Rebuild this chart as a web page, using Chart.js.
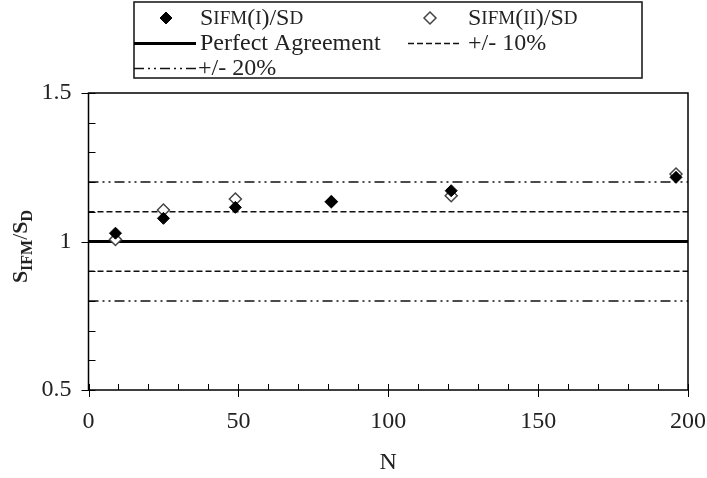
<!DOCTYPE html>
<html>
<head>
<meta charset="utf-8">
<script src="https://cdn.jsdelivr.net/npm/chart.js@4.4.1/dist/chart.umd.min.js"></script>
<style>
  html, body { margin: 0; padding: 0; background: #fff; }
  #wrap { width: 707px; height: 478px; }
</style>
</head>
<body>
<div id="wrap"><canvas id="myChart"></canvas></div>
<script>
// data
var nValues = [9, 25, 49, 81, 121, 196];
var ratioI = [1.028, 1.078, 1.115, 1.134, 1.171, 1.216];
var ratioII = [1.007, 1.106, 1.143, 1.134, 1.154, 1.227];
var perfectLevel = [1];
var band10 = [1.1, 0.9];
var band20 = [1.2, 0.8];
var xRange = [0, 200];
var yRange = [0.5, 1.5];
var xTicks = [0, 50, 100, 150, 200];
var yTicks = [0.5, 1, 1.5];
var seriesLabels = ['SIFM(I)/SD', 'SIFM(II)/SD', 'Perfect Agreement', '+/- 10%', '+/- 20%'];

var FONT = "'Liberation Serif', 'Times New Roman', serif";
var TEXT = '#222';

function toPoints(xs, ys) {
    var pts = [];
    for (var i = 0; i < xs.length; i++) pts.push({x: xs[i], y: ys[i]});
    return pts;
}
// horizontal reference lines across the whole x range, broken by a null
function levelLines(levels) {
    var pts = [];
    levels.forEach(function (v, i) {
        if (i > 0) pts.push({x: xRange[1], y: null});
        pts.push({x: xRange[0], y: v});
        pts.push({x: xRange[1], y: v});
    });
    return pts;
}

// small caps for all-caps labels: first letter of each word full size
function drawLabel(ctx, str, x, y, size) {
    if (/[a-z]/.test(str)) {
        ctx.font = size + 'px ' + FONT;
        ctx.fillText(str, x, y);
        return;
    }
    var start = true;
    for (var i = 0; i < str.length; i++) {
        var ch = str[i];
        var isLetter = /[A-Z]/.test(ch);
        var s = (isLetter && !start) ? Math.round(size * 0.8) : size;
        ctx.font = s + 'px ' + FONT;
        ctx.fillText(ch, x, y);
        x += ctx.measureText(ch).width;
        if (ch === '/' || ch === ' ') start = true;
        else if (isLetter) start = false;
    }
}

var framePlugin = {
    id: 'frame',
    afterDraw: function (chart) {
        var ctx = chart.ctx, a = chart.chartArea;
        var xs = chart.scales.x, ys = chart.scales.y;
        ctx.save();
        ctx.strokeStyle = '#000';
        ctx.lineWidth = 1.5;
        ctx.strokeRect(a.left, a.top, a.right - a.left, a.bottom - a.top);
        ctx.lineWidth = 1;
        ctx.beginPath();
        for (var v = xRange[0]; v <= xRange[1]; v += 10) {
            var px = Math.round(xs.getPixelForValue(v)) + 0.5;
            var major = v % 50 === 0;
            ctx.moveTo(px, a.bottom - 6);
            ctx.lineTo(px, major ? a.bottom + 7 : a.bottom);
        }
        for (var k = 5; k <= 15; k++) {
            var py = Math.round(ys.getPixelForValue(k / 10)) + 0.5;
            var maj = k % 5 === 0;
            ctx.moveTo(maj ? a.left - 7 : a.left, py);
            ctx.lineTo(a.left + 7, py);
        }
        ctx.stroke();

        // y title  S_IFM / S_D
        ctx.fillStyle = TEXT;
        ctx.translate(27, (a.top + a.bottom) / 2 + 5);
        ctx.rotate(-Math.PI / 2);
        ctx.textBaseline = 'alphabetic';
        var parts = [['S', 22, 0], ['IFM', 16, 5], ['/', 22, 0], ['S', 22, 0], ['D', 16, 5]];
        var total = 0;
        parts.forEach(function (p) { ctx.font = 'bold ' + p[1] + 'px ' + FONT; total += ctx.measureText(p[0]).width; });
        var x = -total / 2;
        parts.forEach(function (p) {
            ctx.font = (p[0] === '/' ? '' : 'bold ') + p[1] + 'px ' + FONT;
            ctx.fillText(p[0], x, p[2]);
            x += ctx.measureText(p[0]).width;
        });
        ctx.restore();
    }
};

var legendPlugin = {
    id: 'boxLegend',
    afterDraw: function (chart) {
        var ctx = chart.ctx;
        var ds = chart.data.datasets;
        ctx.save();
        ctx.strokeStyle = '#111';
        ctx.lineWidth = 1.5;
        ctx.strokeRect(134, 2, 508, 76);
        // [dataset index, sample x1, sample x2, text x, row y]
        var items = [[0, 150, 182, 200, 18], [1, 414, 446, 468, 18],
                     [2, 134, 196, 200, 43], [3, 408, 462, 468, 43],
                     [4, 134, 196, 198, 68]];
        items.forEach(function (it) {
            var d = ds[it[0]], y = it[4];
            if (d.showLine) {
                ctx.save();
                ctx.strokeStyle = d.borderColor;
                ctx.lineWidth = d.borderWidth;
                ctx.setLineDash(d.borderDash || []);
                ctx.beginPath();
                ctx.moveTo(it[1], y + 0.5);
                ctx.lineTo(it[2], y + 0.5);
                ctx.stroke();
                ctx.restore();
            } else {
                ctx.fillStyle = d.backgroundColor;
                ctx.strokeStyle = d.borderColor;
                ctx.lineWidth = d.borderWidth;
                Chart.helpers.drawPoint(ctx, {pointStyle: d.pointStyle, radius: d.pointRadius, borderWidth: d.borderWidth, rotation: 0}, (it[1] + it[2]) / 2, y);
            }
            ctx.fillStyle = TEXT;
            ctx.textBaseline = 'middle';
            drawLabel(ctx, d.label, it[3], y + 1, 24);
        });
        ctx.restore();
    }
};

const ctx = document.getElementById('myChart');
const myChart = new Chart(ctx, {
    type: 'scatter',
    data: {
        datasets: [{
            label: seriesLabels[0],
            data: toPoints(nValues, ratioI),
            pointStyle: 'rectRot',
            pointRadius: 6,
            backgroundColor: '#000',
            borderColor: '#000',
            borderWidth: 1
        }, {
            label: seriesLabels[1],
            data: toPoints(nValues, ratioII),
            pointStyle: 'rectRot',
            pointRadius: 6,
            backgroundColor: '#fff',
            borderColor: '#444',
            borderWidth: 1.5
        }, {
            label: seriesLabels[2],
            data: levelLines(perfectLevel),
            showLine: true,
            pointRadius: 0,
            borderColor: '#000',
            borderWidth: 3
        }, {
            label: seriesLabels[3],
            data: levelLines(band10),
            showLine: true,
            pointRadius: 0,
            borderColor: '#111',
            borderWidth: 1.5,
            borderDash: [6, 3]
        }, {
            label: seriesLabels[4],
            data: levelLines(band20),
            showLine: true,
            pointRadius: 0,
            borderColor: '#111',
            borderWidth: 1.5,
            borderDash: [10, 4, 2, 4, 2, 4]
        }]
    },
    options: {
        responsive: true,
        maintainAspectRatio: false,
        animation: false,
        events: [],
        layout: { padding: { top: 93, right: 19, left: 0, bottom: 0 } },
        plugins: { legend: { display: false }, tooltip: { enabled: false } },
        scales: {
            x: {
                type: 'linear',
                min: xRange[0],
                max: xRange[1],
                afterBuildTicks: function (s) { s.ticks = xTicks.map(function (v) { return {value: v}; }); },
                afterFit: function (s) { s.height = 88; s.paddingLeft = 0; s.paddingRight = 0; },
                grid: { display: false },
                border: { display: false },
                ticks: { font: { family: FONT, size: 24 }, color: TEXT, padding: 9, maxRotation: 0 },
                title: { display: true, text: 'N', font: { family: FONT, size: 24 }, color: TEXT, padding: { top: 0, bottom: 1 } }
            },
            y: {
                type: 'linear',
                min: yRange[0],
                max: yRange[1],
                afterBuildTicks: function (s) { s.ticks = yTicks.map(function (v) { return {value: v}; }); },
                afterFit: function (s) { s.width = 88.5; s.paddingTop = 0; s.paddingBottom = 0; },
                grid: { display: false },
                border: { display: false },
                ticks: {
                    font: { family: FONT, size: 24 }, color: TEXT, padding: 9,
                    callback: function (v) { return String(v); }
                }
            }
        }
    },
    plugins: [framePlugin, legendPlugin]
});
</script>
</body>
</html>
